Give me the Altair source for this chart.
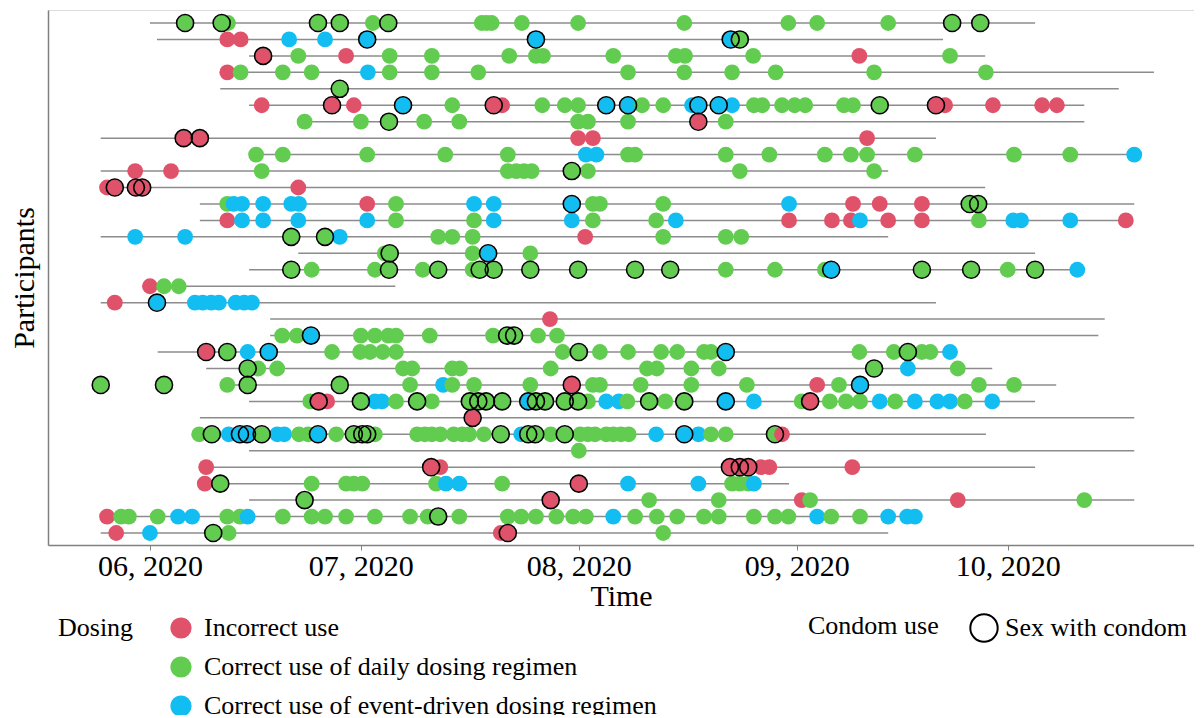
import re
import altair as alt
import pandas as pd

# Each participant row: line start day, line end day (days since 2020-06-01),
# and events "day + type (R=incorrect, G=daily, B=event-driven) + c (condom)"
row_start = [0, 1.0, 14.1, 10.2, 10.0, 14.1, 21.3, -7.0, 14.2, -7.0, -7.0, 7.1, 7.1, -7.0, 21.1, 14.1,
             -0.7, -7.0, 17.1, 17.1, 1.1, 8.0, 10.2, 14.1, 7.1, 6.4, 14.1, 8.0, 7.8, 14.1, -7.0, -7.0]
row_end = [125.9, 112.8, 118.8, 142.8, 137.8, 132.9, 132.9, 111.8, 140.0, 105.0, 118.8, 140.0, 138.8, 105.0,
           125.9, 131.9, 34.9, 111.8, 135.8, 134.9, 114.5, 119.8, 128.9, 125.9, 140.0, 118.9, 140.0, 125.9,
           90.9, 140.0, 109.8, 105.0]
row_events = [
    "5Gc 10.2Gc 11.1G 23.9Gc 27Gc 31.7G 33.9Gc 47.2G 47.9G 48.6G 52.9G 60.9G 76G 90.8G 94.9G 105G 114.1Gc 118.1Gc",
    "11R 12.9R 19.8B 24.9B 30.9Bc 54.9Bc 82.6Bc 83.9Gc",
    "16.1Rc 21.1G 27.9R 34.1G 40.1G 51.1G 54.9G 55.9G 65.9G 74.8G 76.1G 85.8G 100.9R 113.8G",
    "11R 12.9G 18.9G 23G 31B 34.1G 40.1G 46.7G 68G 76G 82.8G 89G 103G 118.9G",
    "27Gc",
    "15.9R 25.9Rc 29R 36Bc 43G 48.9Rc 50.1R 55.8G 59G 60.9G 64.9Bc 68Bc 70G 73G 77.1B 78Bc 80.9Bc 82.8B "
    "85.9G 87.1G 89.9G 91.7G 93.2G 98.7G 100G 103.8Gc 111.8Rc 113.1R 119.9R 126.9R 129R",
    "22G 30G 34Gc 39G 44G 60.9G 62.3G 68G 78Rc 81.9G",
    "4.8Rc 7.1Rc 60.9R 63R 102R",
    "15.1G 18.9G 30.9G 42G 50.9G 62B 63.5B 68G 69G 81.9G 88.1G 96G 99.7G 102G 108.8G 122.9G 130.9G 140B",
    "-2.1R 3R 15.9G 50.9G 52.1G 53.2G 54.3G 60Gc 62.3G 83.9G 103G",
    "-6.1R -5Rc -2Rc -1.1Rc 21.1R",
    "11G 11.9B 13.1B 16.1B 20.1B 21.2B 30.9R 35G 46.1B 48.9B 60Bc 63G 64G 73G 90.9B 100R 103.8R 109.8R "
    "116.6Gc 117.8Gc",
    "11R 13.1B 16.1B 21.1B 30.9B 35G 46.1G 48.9B 60B 63G 72G 74.8B 90.9R 97R 99.7R 101B 105R 109.8R 117.9G "
    "122.8B 123.9B 130.9B 138.8R",
    "-2.1B 5B 20.1Gc 24.9Gc 27B 41G 43G 45.9G 61.9R 73G 81.9G 84.1G",
    "33.4G 34.1Gc 45.9G 48.1Bc 54.1G",
    "20.1Gc 23G 32G 34Gc 38.8G 41Gc 45.9G 46.9Gc 48.9Gc 54.1Gc 60.9Gc 69Gc 74Gc 81.9G 88.9G 96G 96.9Bc "
    "109.8Gc 116.8Gc 122G 125.9Gc 131.9B",
    "0R 2G 4.1G",
    "-5R 1Bc 6.4B 7.5B 8.7B 9.8B 12.2B 13.4B 14.5B",
    "56.9R",
    "18.8G 20.9G 22.9Bc 30G 32G 33.9G 35G 39.8G 48.8G 50.8Gc 51.8Gc 55.2G 57.9G",
    "8Rc 11Gc 13.9B 16.9Bc 25.9G 29.9G 31.3G 33.1G 35G 58.7G 61Gc 64G 68G 72.7G 75G 78.8G 79.8G 81.9Bc "
    "100.9G 105.8G 107.8Gc 109.8G 111G 113.8B",
    "13.9Gc 15.4G 18.1G 36G 37.3G 43G 44.1G 57G 70.7G 72.1G 77G 80.9G 103Gc 107.8B 114.9G",
    "-7Gc 2Gc 11G 13.9Gc 27Gc 37G 41.7B 43G 46.1G 54.1G 60Rc 63G 64G 69.8G 77G 84.9G 94.9R 98G 101Bc "
    "117.9G 122.9G",
    "22.8G 24Rc 25.2R 30Gc 32B 33B 35G 38Gc 40.1G 45.5Gc 46.7Gc 47.8Gc 50.1Gc 53.8Bc 54.9Gc 56.2Gc 59Gc "
    "60.9Gc 62.3G 64.9B 66.7B 67.9G 71Gc 73.3G 76Gc 81.9Bc 85.9B 92.7G 93.9Rc 96.7G 99G 101G 103.8B 106G "
    "108.8B 112B 113.8B 115.9G 119.8B",
    "45.9Rc",
    "7G 8.8Gc 11.2B 12.8Bc 13.8Bc 15.9Gc 18.1B 19.1B 21.2G 22.5G 23.9Bc 26.5G 29Gc 30.2Gc 30.9Gc 32G 38G "
    "39.1G 40.1G 41.3G 43.2G 44.4G 45.4G 47.5G 49.9Gc 52.8B 53.8Gc 54.8Gc 57G 59Gc 61.2G 62.3G 63.3G 64.9G "
    "65.9G 67G 68.1G 72B 76Bc 78B 79.8G 81.9G 88.9Gc 89.9R",
    "61G",
    "8R 40Rc 41.3R 82.5Rc 83.9Rc 85.1Rc 86.9R 88.1R 99.9R",
    "7.8R 10Gc 23G 27.9G 29G 30.2G 40.7G 42.1B 44B 50.1G 61Rc 68B 78B 82.8G 83.9G 85.1G 85.9B",
    "22Gc 57Rc 71G 80.9G 92.7R 93.9G 114.9R 132.9G",
    "-6.1R -4.1G -3G 1.1G 4B 6B 11G 12.8G 13.9B 18.9G 23G 24.9G 27.9G 32G 37G 39.5G 41Gc 44G 50.9G 52.8G "
    "54.9G 57.8G 60.2G 62G 65.9B 69G 72.1G 75G 78.8G 80.9G 85.9G 88.9G 90.8G 94.9B 96.9G 101G 105B 107.7B "
    "108.8B",
    "-4.8R 0B 9Gc 11.2G 49.9R 50.9Rc 73G",
]
dosing_labels = ["Incorrect use", "Correct use of daily dosing regimen",
                 "Correct use of event-driven dosing regimen"]
dosing_colors = ["#E0526A", "#62CC50", "#12BDF2"]
type_map = {"R": dosing_labels[0], "G": dosing_labels[1], "B": dosing_labels[2]}

base = pd.Timestamp("2020-06-01")


def to_date(d):
    return (base + pd.to_timedelta(float(d), unit="D")).strftime("%Y-%m-%dT%H:%M:%S")


lines = pd.DataFrame({
    "row": list(range(1, len(row_start) + 1)),
    "start": [to_date(v) for v in row_start],
    "end": [to_date(v) for v in row_end],
})
recs = []
for i, s in enumerate(row_events, start=1):
    for day, t, c in re.findall(r"(-?[\d.]+)([RGB])(c?)", s):
        recs.append({"row": i, "date": to_date(day), "dosing": type_map[t],
                     "condom": "Sex with condom" if c else ""})
dots = pd.DataFrame(recs)
rings = dots[dots["condom"] != ""].copy()

FONT = "Liberation Serif"
xscale = alt.Scale(domain=[alt.DateTime(year=2020, month=5, date=17, hours=12),
                           alt.DateTime(year=2020, month=10, date=27, hours=12)])
yscale = alt.Scale(domain=[0.21, 32.73], reverse=True, nice=False, zero=False)
xaxis = alt.Axis(title="Time", format="%m, %Y", grid=False,
                 values=[alt.DateTime(year=2020, month=m, date=1) for m in range(6, 11)],
                 labelFont=FONT, labelFontSize=30, labelColor="black", labelPadding=1,
                 tickColor="#808080", tickSize=5, domainColor="#808080", domainWidth=1.5,
                 titleFont=FONT, titleFontSize=30, titleFontWeight="normal", titleColor="black",
                 titlePadding=0)
yaxis = alt.Axis(title="Participants", labels=False, ticks=False, grid=False,
                 domainColor="#808080", domainWidth=1.5,
                 titleFont=FONT, titleFontSize=30, titleFontWeight="normal", titleColor="black",
                 titlePadding=9)

rules = alt.Chart(lines).mark_rule(color="#8C8C8C", strokeWidth=1.5).encode(
    x=alt.X("start:T", scale=xscale, axis=xaxis),
    x2="end:T",
    y=alt.Y("row:Q", scale=yscale, axis=yaxis),
)
points = alt.Chart(dots).mark_circle(size=250, opacity=1).encode(
    x=alt.X("date:T", scale=xscale, axis=xaxis),
    y=alt.Y("row:Q", scale=yscale, axis=yaxis),
    color=alt.Color("dosing:N", scale=alt.Scale(domain=dosing_labels, range=dosing_colors),
                    legend=alt.Legend(title="Dosing", orient="none", legendX=10, legendY=605,
                                      direction="vertical", titleOrient="left",
                                      titleAnchor="start", titleBaseline="top",
                                      titleFont=FONT, titleFontSize=26, titleFontWeight="normal",
                                      titleColor="black", titlePadding=34,
                                      labelFont=FONT, labelFontSize=26, labelColor="black",
                                      labelOffset=10, labelLimit=600,
                                      symbolType="circle", symbolSize=450, rowPadding=13)),
)
ring_layer = alt.Chart(rings).mark_point(shape="circle", filled=False, size=290, strokeWidth=1.6,
                                         opacity=1).encode(
    x=alt.X("date:T", scale=xscale, axis=xaxis),
    y=alt.Y("row:Q", scale=yscale, axis=yaxis),
    stroke=alt.Stroke("condom:N", scale=alt.Scale(domain=["Sex with condom"], range=["black"]),
                      legend=alt.Legend(title="Condom use", orient="none", legendX=760, legendY=603,
                                        direction="vertical", titleOrient="left",
                                        titleAnchor="start", titleBaseline="top",
                                        titleFont=FONT, titleFontSize=26, titleFontWeight="normal",
                                        titleColor="black", titlePadding=30,
                                        labelFont=FONT, labelFontSize=26, labelColor="black",
                                        labelOffset=6, labelLimit=600,
                                        symbolType="circle", symbolSize=750, symbolStrokeWidth=2)),
)

chart = alt.layer(rules, points, ring_layer).properties(
    width=1146, height=535,
    padding={"left": 40, "top": 2, "right": 0, "bottom": 170},
    autosize=alt.AutoSizeParams(type="none"),
).configure_view(strokeWidth=0).configure(background="white")

chart.save("out.html", embed_options={"renderer": "svg", "actions": False})
